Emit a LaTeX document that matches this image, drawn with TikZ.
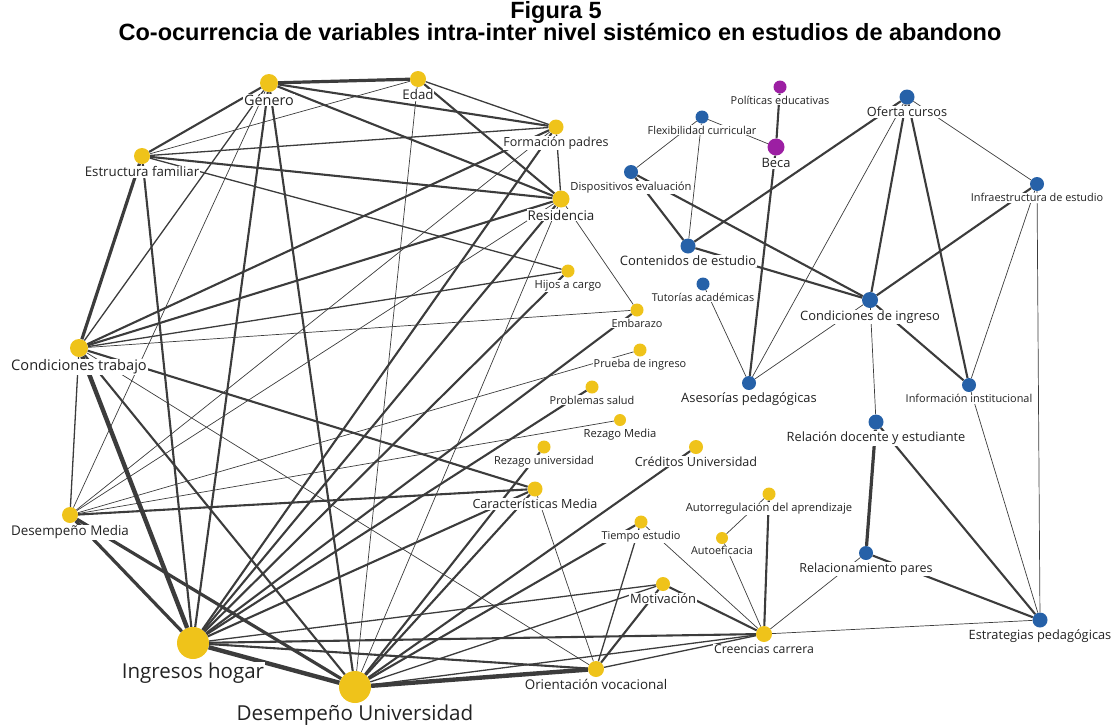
\documentclass[tikz,border=0pt]{standalone}
\usepackage{fontspec}
\setmainfont{Open Sans}
\newfontfamily\titlefont{Liberation Sans}
\usetikzlibrary{calc}
\definecolor{yel}{HTML}{EFC31A}
\definecolor{blu}{HTML}{2661A8}
\definecolor{pur}{HTML}{9C1FA3}
\definecolor{edgec}{HTML}{3C3C3C}
\definecolor{labc}{HTML}{222222}
\tikzset{
 dot/.style={circle, inner sep=0pt, draw=none},
 lab/.style={inner sep=0.8pt, fill=white, text=labc, anchor=base},
 ttl/.style={inner sep=0pt, anchor=base, font=\titlefont\bfseries\fontsize{23.5}{23.5}\selectfont},
 e0/.style={draw=edgec, line width=0.7pt},
 e1/.style={draw=edgec, line width=1.3pt},
 e2/.style={draw=edgec, line width=2.1pt},
 e3/.style={draw=edgec, line width=3.2pt},
 e4/.style={draw=edgec, line width=4.4pt},
}
% dot node: name, x, y, radius, colour
\newcommand\vd[5]{\node[dot, fill=#5, minimum size={2*#4pt}] (#1) at (#2,#3) {};}
% label node under a dot: name, radius, size, text
\newcommand\vl[4]{\node[lab, font=\fontsize{#3pt}{#3pt}\selectfont] (#1L) at ($(#1.center)+(0,{#2+3+0.72*#3})$) {#4};}
\begin{document}
\begin{tikzpicture}[x=1pt,y=-1pt]
\useasboundingbox (0,0) rectangle (1113,726);
\node[ttl] (t1) at (556,18) {Figura 5};
\node[ttl] (t2) at (560,40) {Co-ocurrencia de variables intra-inter nivel sistémico en estudios de abandono};
% ---------- dots ----------
\vd{gen}{269}{83}{9}{yel}
\vd{eda}{418}{79}{8}{yel}
\vd{for}{556}{127}{7.5}{yel}
\vd{est}{142}{156}{8}{yel}
\vd{res}{561}{199}{8.5}{yel}
\vd{hij}{568}{271}{6.5}{yel}
\vd{emb}{637}{310}{6.5}{yel}
\vd{ctr}{79}{348}{9}{yel}
\vd{pru}{640}{350}{6.5}{yel}
\vd{pro}{592}{387}{6.5}{yel}
\vd{rzm}{620}{420}{6}{yel}
\vd{rzu}{544}{447}{6.5}{yel}
\vd{cred}{696}{447}{7}{yel}
\vd{car}{535}{489}{7.5}{yel}
\vd{dme}{70}{515}{8}{yel}
\vd{aut}{769}{494}{6.5}{yel}
\vd{tie}{641}{522}{6.5}{yel}
\vd{aef}{722}{538}{6}{yel}
\vd{mot}{663}{584}{7}{yel}
\vd{crc}{764}{634}{8}{yel}
\vd{ori}{596}{669}{8}{yel}
\vd{ing}{193}{643}{16}{yel}
\vd{dun}{355}{687}{16}{yel}
\vd{ofe}{907}{97}{7.5}{blu}
\vd{fle}{702}{117}{6.5}{blu}
\vd{dis}{631}{172}{7}{blu}
\vd{infr}{1037}{184}{7}{blu}
\vd{con}{688}{246}{7.5}{blu}
\vd{tut}{703}{284}{6.5}{blu}
\vd{cin}{870}{300}{8}{blu}
\vd{ase}{749}{383}{7}{blu}
\vd{inst}{969}{385}{7}{blu}
\vd{rdo}{876}{422}{7.5}{blu}
\vd{rpa}{866}{553}{7}{blu}
\vd{estp}{1040}{620}{7.5}{blu}
\vd{pol}{780}{87}{6.5}{pur}
\vd{bec}{776}{147}{8.5}{pur}
% ---------- connectors ----------
\draw[e3] (gen) -- (eda);
\draw[e2] (gen) -- (for);
\draw[e2] (gen) -- (res);
\draw[e2] (gen) -- (est);
\draw[e1] (gen) -- (ctr);
\draw[e0] (gen) -- (dme);
\draw[e2] (gen) -- (ing);
\draw[e2] (gen) -- (dun);
\draw[e0] (eda) -- (est);
\draw[e1] (eda) -- (for);
\draw[e2] (eda) -- (res);
\draw[e0] (eda) -- (dun);
\draw[e1] (est) -- (for);
\draw[e2] (est) -- (res);
\draw[e1] (est) -- (hij);
\draw[e3] (est) -- (ctr);
\draw[e2] (est) -- (ing);
\draw[e1] (for) -- (res);
\draw[e2] (for) -- (ctr);
\draw[e0] (for) -- (dme);
\draw[e2] (for) -- (ing);
\draw[e2] (res) -- (ctr);
\draw[e0] (res) -- (dme);
\draw[e2] (res) -- (ing);
\draw[e0] (res) -- (dun);
\draw[e0] (res) -- (emb);
\draw[e1] (hij) -- (ctr);
\draw[e2] (hij) -- (ing);
\draw[e0] (emb) -- (ctr);
\draw[e2] (emb) -- (ing);
\draw[e2] (ctr) -- (car);
\draw[e0] (ctr) -- (ori);
\draw[e2] (ctr) -- (dun);
\draw[e4] (ctr) -- (ing);
\draw[e1] (ctr) -- (dme);
\draw[e0] (pru) -- (dme);
\draw[e2] (pro) -- (ing);
\draw[e0] (rzm) -- (dme);
\draw[e2] (rzu) -- (dun);
\draw[e2] (cred) -- (dun);
\draw[e2] (car) -- (dme);
\draw[e2] (car) -- (ing);
\draw[e2] (car) -- (dun);
\draw[e0] (car) -- (ori);
\draw[e3] (dme) -- (ing);
\draw[e3] (dme) -- (dun);
\draw[e4] (ing) -- (dun);
\draw[e1] (ing) -- (mot);
\draw[e2] (ing) -- (crc);
\draw[e2] (ing) -- (ori);
\draw[e4] (dun) -- (ori);
\draw[e2] (dun) -- (tie);
\draw[e1] (dun) -- (mot);
\draw[e1] (dun) -- (crc);
\draw[e0] (tie) -- (crc);
\draw[e1] (tie) -- (ori);
\draw[e2] (mot) -- (crc);
\draw[e2] (mot) -- (ori);
\draw[e1] (ori) -- (crc);
\draw[e2] (aut) -- (crc);
\draw[e0] (aut) -- (aef);
\draw[e0] (aef) -- (crc);
\draw[e0] (crc) -- (rpa);
\draw[e0] (crc) -- (estp);
\draw[e2] (pol) -- (bec);
\draw[e0] (bec) -- (fle);
\draw[e2] (bec) -- (ase);
\draw[e0] (fle) -- (dis);
\draw[e0] (fle) -- (con);
\draw[e2] (dis) -- (con);
\draw[e2] (dis) -- (cin);
\draw[e2] (con) -- (ofe);
\draw[e2] (con) -- (cin);
\draw[e0] (tut) -- (ase);
\draw[e0] (ofe) -- (ase);
\draw[e2] (ofe) -- (cin);
\draw[e2] (ofe) -- (inst);
\draw[e0] (ofe) -- (infr);
\draw[e2] (infr) -- (cin);
\draw[e0] (infr) -- (inst);
\draw[e0] (infr) -- (estp);
\draw[e0] (cin) -- (ase);
\draw[e2] (cin) -- (inst);
\draw[e0] (cin) -- (rdo);
\draw[e0] (inst) -- (estp);
\draw[e3] (rdo) -- (rpa);
\draw[e2] (rdo) -- (estp);
\draw[e2] (rpa) -- (estp);
% ---------- labels (on top of connectors) ----------
\vl{gen}{9}{14.4}{Género}
\vl{eda}{8}{13.3}{Edad}
\vl{for}{7.5}{12.5}{Formación padres}
\vl{est}{8}{13.3}{Estructura familiar}
\vl{res}{8.5}{13.4}{Residencia}
\vl{hij}{6.5}{11.2}{Hijos a cargo}
\vl{emb}{6.5}{10.9}{Embarazo}
\vl{ctr}{9}{14.6}{Condiciones trabajo}
\vl{pru}{6.5}{10.9}{Prueba de ingreso}
\vl{pro}{6.5}{10.9}{Problemas salud}
\vl{rzm}{6}{11.2}{Rezago Media}
\vl{rzu}{6.5}{11}{Rezago universidad}
\vl{cred}{7}{12.6}{Créditos Universidad}
\vl{car}{7.5}{12.6}{Características Media}
\vl{dme}{8}{13.4}{Desempeño Media}
\vl{aut}{6.5}{11.2}{Autorregulación del aprendizaje}
\vl{tie}{6.5}{10.9}{Tiempo estudio}
\vl{aef}{6}{10.9}{Autoeficacia}
\vl{mot}{7}{12.9}{Motivación}
\vl{crc}{8}{12.3}{Creencias carrera}
\vl{ori}{8}{13.4}{Orientación vocacional}
\vl{ing}{17.5}{20.5}{Ingresos hogar}
\vl{dun}{16}{20.6}{Desempeño Universidad}
\vl{ofe}{7.5}{12.7}{Oferta cursos}
\vl{fle}{6.5}{10.9}{Flexibilidad curricular}
\vl{dis}{7}{11.2}{Dispositivos evaluación}
\vl{infr}{7}{10.9}{Infraestructura de estudio}
\vl{con}{7.5}{13}{Contenidos de estudio}
\vl{tut}{6.5}{10.8}{Tutorías académicas}
\vl{cin}{8}{12.9}{Condiciones de ingreso}
\vl{ase}{7}{12.9}{Asesorías pedagógicas}
\vl{inst}{7}{10.9}{Información institucional}
\vl{rdo}{7.5}{12.8}{Relación docente y estudiante}
\vl{rpa}{7}{12.5}{Relacionamiento pares}
\vl{estp}{7.5}{12.8}{Estrategias pedagógicas}
\vl{pol}{6.5}{10.9}{Políticas educativas}
\vl{bec}{8.5}{12.9}{Beca}
\end{tikzpicture}
\end{document}
